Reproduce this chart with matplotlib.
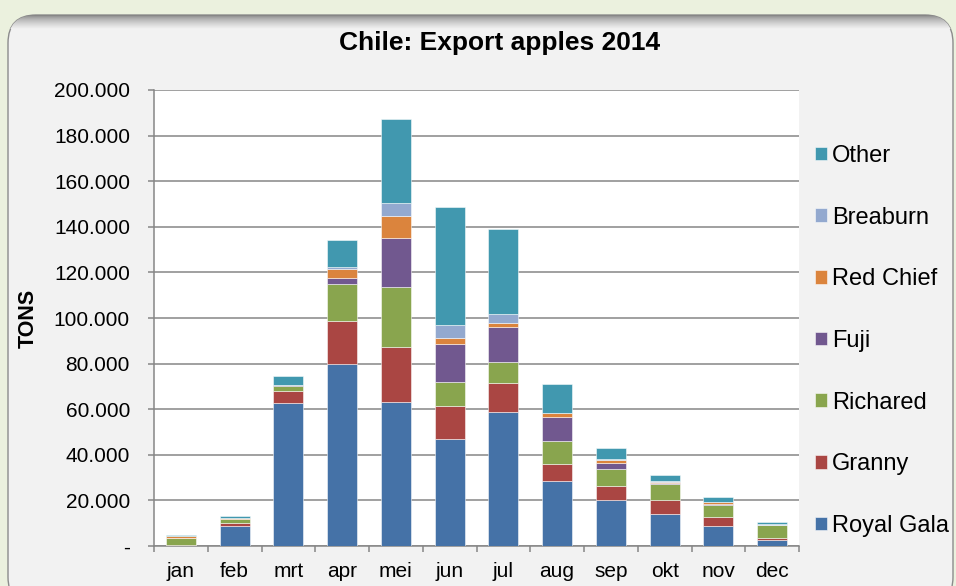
import matplotlib.pyplot as plt
import numpy as np
from matplotlib.patches import FancyBboxPatch
from matplotlib.colors import LinearSegmentedColormap
from matplotlib.ticker import FuncFormatter

plt.rcParams['font.family'] = ['Liberation Sans', 'DejaVu Sans']

# data (x 1000 ton)
months = ['jan', 'feb', 'mrt', 'apr', 'mei', 'jun', 'jul', 'aug', 'sep', 'okt', 'nov', 'dec']
royal_gala = [0.2, 8.9, 62.6, 79.8, 63.3, 46.9, 58.9, 28.5, 20.0, 14.0, 8.6, 2.6]
granny = [0.2, 1.3, 5.5, 19.0, 24.1, 14.6, 12.6, 7.6, 6.4, 6.3, 4.0, 1.0]
richared = [3.2, 1.5, 2.2, 16.0, 26.3, 10.3, 9.2, 10.0, 7.5, 6.8, 5.5, 5.4]
fuji = [0.1, 0.2, 0.1, 2.6, 21.5, 16.9, 15.5, 10.6, 2.6, 0.4, 0.2, 0.1]
red_chief = [0.6, 0.2, 0.2, 4.2, 9.7, 2.5, 1.7, 1.5, 1.2, 0.6, 0.8, 0.3]
breaburn = [0.2, 0.1, 0.1, 0.6, 5.5, 5.7, 3.9, 0.3, 0.5, 0.3, 0.4, 0.2]
other = [0.3, 1.0, 3.7, 11.9, 36.7, 51.8, 37.2, 12.7, 4.9, 2.6, 1.9, 0.8]

series = [('Royal Gala', royal_gala, '#4572A7'),
          ('Granny', granny, '#AA4643'),
          ('Richared', richared, '#89A54E'),
          ('Fuji', fuji, '#71588F'),
          ('Red Chief', red_chief, '#DB843D'),
          ('Breaburn', breaburn, '#93A9CF'),
          ('Other', other, '#4198AF')]

fig = plt.figure(figsize=(9.56, 5.86), dpi=100)
fig.patch.set_facecolor('#EBF1DE')

# achtergrond met afgeronde rand (pixelcoordinaten)
bg = fig.add_axes([0, 0, 1, 1])
bg.axis('off')
frame = FancyBboxPatch((8, 15), 945, 590, boxstyle='round,pad=0,rounding_size=28',
                       facecolor='#F2F2F2', edgecolor='#8C8C8C', lw=1)
bg.add_patch(frame)
grad = np.linspace(0, 1, 64).reshape(-1, 1) ** 0.6
cmap = LinearSegmentedColormap.from_list('schaduw', ['#7A7A7A', '#F2F2F2'])
im = bg.imshow(grad, extent=(8, 953, 29, 15), cmap=cmap, aspect='auto', zorder=2)
im.set_clip_path(frame)
bg.set_xlim(0, 956)
bg.set_ylim(586, 0)

ax = fig.add_axes([154/956, 40/586, 645/956, 456/586])
ax.set_facecolor('white')

x = np.arange(len(months))
bottom = np.zeros(len(months))
for name, vals, col in series:
    v = np.array(vals) * 1000
    ax.bar(x, v, 0.56, bottom=bottom, color=col, edgecolor=(1, 1, 1, 0.6),
           linewidth=0.6, label=name, zorder=3)
    bottom += v

ax.set_xlim(-0.5, 11.5)
ax.set_ylim(0, 200000)
ax.set_yticks(np.arange(0, 200001, 20000))
ax.yaxis.set_major_formatter(FuncFormatter(
    lambda v, p: '-' if v == 0 else f'{int(v):,}'.replace(',', '.')))
ax.grid(axis='y', color='#868686', lw=1.1, zorder=0)

for s in ['top', 'right']:
    ax.spines[s].set_visible(False)
for s in ['left', 'bottom']:
    ax.spines[s].set_color('#868686')
    ax.spines[s].set_linewidth(1.1)

ax.set_xticks(np.arange(-0.5, 12, 1))
ax.set_xticklabels([])
ax.set_xticks(x, minor=True)
ax.set_xticklabels(months, minor=True)
ax.tick_params(axis='x', which='major', length=4.3, width=1.1, color='#868686')
ax.tick_params(axis='x', which='minor', length=0, pad=11.5, labelsize=15)
ax.tick_params(axis='y', length=4.3, width=1.1, color='#868686', pad=13, labelsize=15)

fig.text(500/956, 1 - 43/586, 'Chile: Export apples 2014', ha='center', va='center',
         fontsize=19, fontweight='bold')
fig.text(28/956, 1 - 318/586, 'TONS', rotation=90, ha='center', va='center',
         fontsize=15.5, fontweight='bold')

handles, labels = ax.get_legend_handles_labels()
fig.legend(handles[::-1], labels[::-1], loc='center left',
           bbox_to_anchor=(815/956, 1 - 341/586), frameon=False, fontsize=17,
           labelspacing=1.68, handlelength=0.51, handleheight=0.51,
           handletextpad=0.2, borderpad=0, borderaxespad=0)

fig.savefig('out.png', dpi=100)
